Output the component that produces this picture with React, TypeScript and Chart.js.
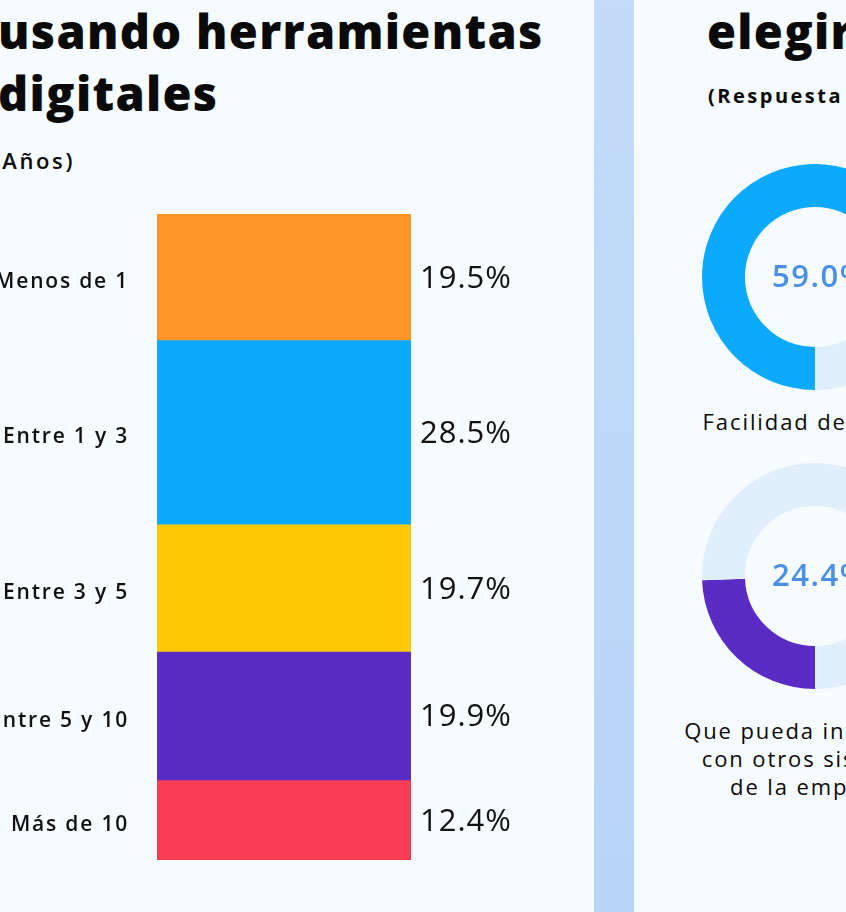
import React, { useEffect, useRef } from "react";
import { Chart, registerables } from "chart.js";

Chart.register(...registerables);

// ---- Data ----
const categories = ["Menos de 1", "Entre 1 y 3", "Entre 3 y 5", "Entre 5 y 10", "Más de 10"];
const shares = [19.5, 28.5, 19.7, 19.9, 12.4];
const segmentColors = ["#FF9429", "#0DA9FF", "#FFCA05", "#5B2BC6", "#F93D55"];

const donutValues = [59.0, 24.4];
const donutColors = ["#0DA9FF", "#5B2BC6"];
const donutCaptions = [
  ["Facilidad de uso"],
  ["Que pueda integrarse", "con otros sistemas", "de la empresa"],
];

const leftTitle = ["usando herramientas", "digitales"];
const leftSubtitle = "(Años)";
const rightTitle = "elegir una herramienta";
const rightSubtitle = "(Respuesta múltiple)";

const FONT = "'Open Sans', 'Noto Sans', sans-serif";
const TITLE_FONT = "'Open Sans', Lato, sans-serif";
const BG = "#F6FBFF";
const REST = "#E1EEFC";

const barLabels = {
  id: "barLabels",
  afterDatasetsDraw(chart: any) {
    const ctx = chart.ctx;
    const area = chart.chartArea;
    ctx.save();
    chart.data.datasets.forEach((ds: any, i: number) => {
      const el = chart.getDatasetMeta(i).data[0];
      if (!el) return;
      const yc = (el.y + el.base) / 2;
      ctx.fillStyle = "#111";
      ctx.textBaseline = "middle";
      ctx.textAlign = "right";
      ctx.font = `600 21px ${FONT}`;
      (ctx as any).letterSpacing = "1.8px";
      ctx.fillText(ds.label, area.left - 28, yc + 5);
      ctx.textAlign = "left";
      ctx.font = `500 31px ${FONT}`;
      (ctx as any).letterSpacing = "1px";
      ctx.fillText(`${ds.data[0].toFixed(1)}%`, area.right + 9, yc + 2);
    });
    ctx.restore();
  },
};

function StackedBar() {
  const ref = useRef<HTMLCanvasElement>(null);
  useEffect(() => {
    if (!ref.current) return;
    const chart = new Chart(ref.current, {
      type: "bar",
      data: {
        labels: [""],
        datasets: categories.map((c, i) => ({
          label: c,
          data: [shares[i]],
          backgroundColor: segmentColors[i],
          borderWidth: 0,
          barPercentage: 1,
          categoryPercentage: 1,
        })),
      },
      options: {
        responsive: false,
        animation: false,
        layout: { padding: { left: 157, right: 183, top: 214, bottom: 52 } },
        scales: {
          x: { display: false, stacked: true },
          y: { display: false, stacked: true, min: 0, max: 100, reverse: true },
        },
        plugins: { legend: { display: false }, tooltip: { enabled: false } },
      },
      plugins: [barLabels],
    } as any);
    return () => chart.destroy();
  }, []);
  return (
    <canvas
      ref={ref}
      width={594}
      height={912}
      style={{ position: "absolute", left: 0, top: 0, width: 594, height: 912 }}
    />
  );
}

function Donut({ value, color, top }: { value: number; color: string; top: number }) {
  const ref = useRef<HTMLCanvasElement>(null);
  useEffect(() => {
    if (!ref.current) return;
    const centerText = {
      id: "centerText",
      afterDatasetsDraw(chart: any) {
        const ctx = chart.ctx;
        const a = chart.chartArea;
        ctx.save();
        ctx.fillStyle = "#4A8FE8";
        ctx.font = `600 31px ${FONT}`;
        (ctx as any).letterSpacing = "1.5px";
        ctx.textAlign = "center";
        ctx.textBaseline = "middle";
        ctx.fillText(`${value.toFixed(1)}%`, (a.left + a.right) / 2 + 5, (a.top + a.bottom) / 2 + 1);
        ctx.restore();
      },
    };
    const chart = new Chart(ref.current, {
      type: "doughnut",
      data: {
        labels: ["Sí", "Resto"],
        datasets: [
          {
            data: [value, 100 - value],
            backgroundColor: [color, REST],
            borderWidth: 0,
          },
        ],
      },
      options: {
        responsive: false,
        animation: false,
        rotation: 180,
        cutout: "62%",
        plugins: { legend: { display: false }, tooltip: { enabled: false } },
      },
      plugins: [centerText],
    } as any);
    return () => chart.destroy();
  }, [value, color]);
  return (
    <canvas
      ref={ref}
      width={226}
      height={226}
      style={{ position: "absolute", left: 702, top, width: 226, height: 226 }}
    />
  );
}

const captionStyle: React.CSSProperties = {
  position: "absolute",
  width: 400,
  textAlign: "center",
  fontSize: 22,
  fontWeight: 500,
  letterSpacing: 1.9,
  lineHeight: "28px",
  whiteSpace: "nowrap",
};

const titleStyle: React.CSSProperties = {
  position: "absolute",
  top: 0,
  fontFamily: TITLE_FONT,
  fontWeight: 800,
  fontSize: 47,
  lineHeight: "62px",
  letterSpacing: 1.3,
  whiteSpace: "nowrap",
};

export default function App() {
  useEffect(() => {
    document.body.style.margin = "0";
  }, []);
  return (
    <div
      style={{
        position: "fixed",
        left: 0,
        top: 0,
        width: 846,
        height: 912,
        overflow: "hidden",
        background: BG,
        fontFamily: FONT,
        color: "#0a0a0a",
      }}
    >
      <div
        style={{
          position: "absolute",
          left: 594,
          top: 0,
          width: 40,
          height: 912,
          background: "linear-gradient(#C3DBF8, #B8D4F8)",
        }}
      />
      <div style={{ ...titleStyle, left: -2 }}>
        {leftTitle.map((l) => (
          <div key={l}>{l}</div>
        ))}
      </div>
      <div
        style={{
          position: "absolute",
          left: -225,
          width: 300,
          top: 145,
          textAlign: "right",
          fontSize: 22,
          fontWeight: 600,
          letterSpacing: 2.6,
          whiteSpace: "nowrap",
        }}
      >
        {leftSubtitle}
      </div>
      <StackedBar />

      <div style={{ ...titleStyle, left: 707 }}>{rightTitle}</div>
      <div
        style={{
          position: "absolute",
          left: 708,
          top: 82,
          fontSize: 20,
          fontWeight: 700,
          letterSpacing: 2.5,
          whiteSpace: "nowrap",
        }}
      >
        {rightSubtitle}
      </div>

      <Donut value={donutValues[0]} color={donutColors[0]} top={164} />
      <div style={{ ...captionStyle, left: 600, top: 407 }}>
        {donutCaptions[0].map((l) => (
          <div key={l}>{l}</div>
        ))}
      </div>

      <Donut value={donutValues[1]} color={donutColors[1]} top={463} />
      <div style={{ ...captionStyle, left: 615, top: 716 }}>
        {donutCaptions[1].map((l) => (
          <div key={l}>{l}</div>
        ))}
      </div>
    </div>
  );
}
